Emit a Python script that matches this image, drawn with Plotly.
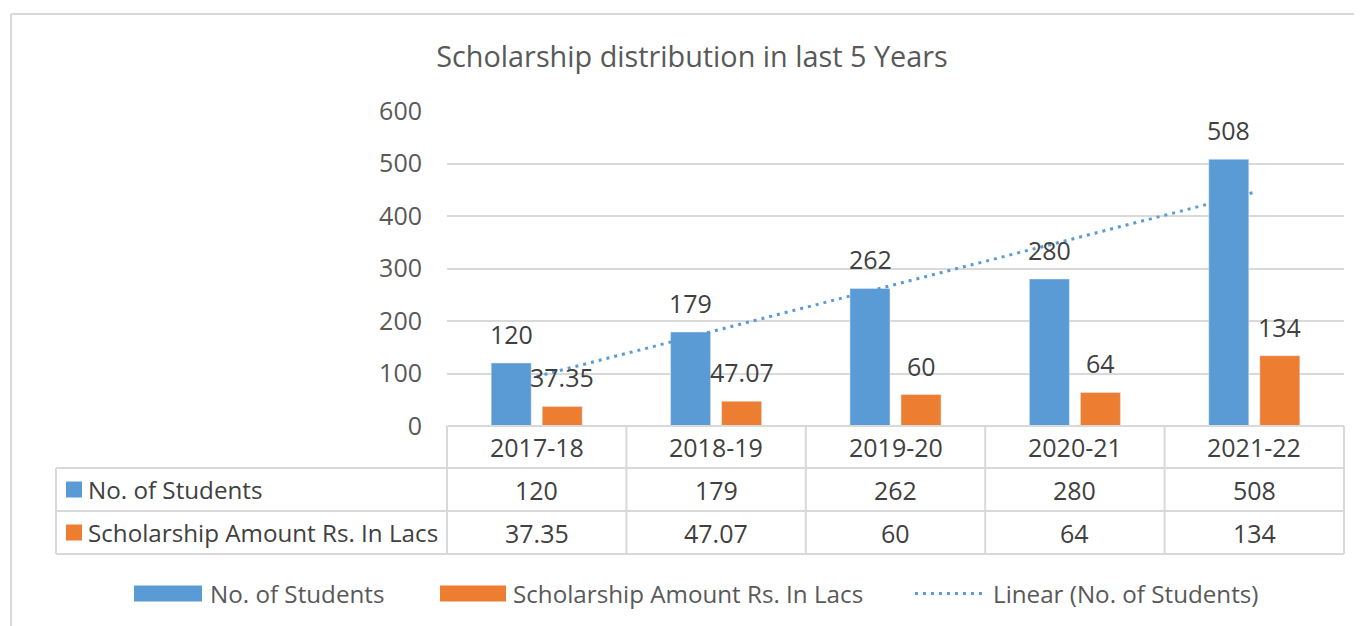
import numpy as np
import plotly.graph_objects as go

categories = ["2017-18", "2018-19", "2019-20", "2020-21", "2021-22"]
students = [120, 179, 262, 280, 508]
amount = [37.35, 47.07, 60, 64, 134]
amount_labels = ["37.35", "47.07", "60", "64", "134"]
series_names = ["No. of Students", "Scholarship Amount Rs. In Lacs", "Linear (No. of Students)"]
y_ticks = [0, 100, 200, 300, 400, 500, 600]

BLUE = "#5b9bd5"
ORANGE = "#ed7d31"
GRID = "#d9d9d9"
TXT = "#404040"
TXT2 = "#595959"
FONT = "Open Sans"
FS = 24.2   # text
FN = 25     # numbers

W, H = 1362, 626
OFF = 8  # page body margin
# plot area in page pixels
PL, PR, PT, PB = 447, 1344, 111, 426
L, R, T, B = PL - OFF, PR - OFF, PT - OFF, PB - OFF


def px(xp):
    return (xp - PL) / (PR - PL)


def py(yp):
    return (PB - yp) / (PB - PT)


# linear trend line (least squares) of students
xi = np.arange(1, len(students) + 1)
slope, icpt = np.polyfit(xi, students, 1)
trend = slope * xi + icpt

DOT = "3px,5px"

fig = go.Figure()
fig.add_trace(go.Bar(x=categories, y=students, name=series_names[0],
                     marker=dict(color=BLUE), showlegend=False))
fig.add_trace(go.Bar(x=categories, y=amount, name=series_names[1],
                     marker=dict(color=ORANGE), showlegend=False))
fig.add_trace(go.Scatter(x=categories, y=trend, name=series_names[2], mode="lines",
                         line=dict(color=BLUE, width=3, dash=DOT), showlegend=False))

ann = []
shapes = []

# data labels
for c, v in zip(categories, students):
    ann.append(dict(x=c, y=v, xref="x", yref="y", text=str(v), showarrow=False,
                    xshift=-25.5, yshift=10, yanchor="bottom",
                    font=dict(family=FONT, size=FN, color=TXT)))
for c, v, t in zip(categories, amount, amount_labels):
    ann.append(dict(x=c, y=v, xref="x", yref="y", text=t, showarrow=False,
                    xshift=25.5, yshift=10, yanchor="bottom",
                    font=dict(family=FONT, size=FN, color=TXT)))

# data table
row_y = [447, 489.5, 532.5]
for c in categories:
    ann.append(dict(x=c, y=py(row_y[0]), xref="x", yref="paper", text=c, showarrow=False,
                    yanchor="middle", font=dict(family=FONT, size=FN, color=TXT)))
for c, v in zip(categories, students):
    ann.append(dict(x=c, y=py(row_y[1]), xref="x", yref="paper", text=str(v), showarrow=False,
                    yanchor="middle", font=dict(family=FONT, size=FN, color=TXT)))
for c, t in zip(categories, amount_labels):
    ann.append(dict(x=c, y=py(row_y[2]), xref="x", yref="paper", text=t, showarrow=False,
                    yanchor="middle", font=dict(family=FONT, size=FN, color=TXT)))

# row headers with colour keys
for ry, name, col in [(row_y[1], series_names[0], BLUE), (row_y[2], series_names[1], ORANGE)]:
    shapes.append(dict(type="rect", xref="paper", yref="paper",
                       x0=px(66), x1=px(82), y0=py(ry - 8), y1=py(ry + 8),
                       fillcolor=col, line=dict(width=0)))
    ann.append(dict(x=px(86), y=py(ry), xref="paper", yref="paper", text=name,
                    showarrow=False, xanchor="left", yanchor="middle",
                    font=dict(family=FONT, size=FS, color=TXT)))

lw = dict(color=GRID, width=2)
# horizontal table lines
shapes.append(dict(type="line", xref="paper", yref="paper", x0=0, x1=1, y0=py(426), y1=py(426), line=lw))
for yy in [468, 511, 554]:
    shapes.append(dict(type="line", xref="paper", yref="paper", x0=px(56), x1=1, y0=py(yy), y1=py(yy), line=lw))
# vertical table lines
shapes.append(dict(type="line", xref="paper", yref="paper", x0=px(56), x1=px(56), y0=py(468), y1=py(554), line=lw))
for i in range(len(categories) + 1):
    xx = PL + i * (PR - PL) / len(categories)
    shapes.append(dict(type="line", xref="paper", yref="paper", x0=px(xx), x1=px(xx), y0=py(426), y1=py(554), line=lw))

# outer chart border (top and left)
shapes.append(dict(type="line", xref="paper", yref="paper", x0=px(11), x1=px(W + 20), y0=py(14), y1=py(14),
                   line=dict(color=GRID, width=2)))
shapes.append(dict(type="line", xref="paper", yref="paper", x0=px(11), x1=px(11), y0=py(14), y1=py(H + 20),
                   line=dict(color=GRID, width=2)))

# bottom legend
LY = 593.5
shapes.append(dict(type="rect", xref="paper", yref="paper", x0=px(134), x1=px(202), y0=py(LY - 8), y1=py(LY + 8),
                   fillcolor=BLUE, line=dict(width=0)))
ann.append(dict(x=px(208), y=py(LY), xref="paper", yref="paper", text=series_names[0], showarrow=False,
                xanchor="left", yanchor="middle", font=dict(family=FONT, size=FS, color=TXT2)))
shapes.append(dict(type="rect", xref="paper", yref="paper", x0=px(440), x1=px(506), y0=py(LY - 8), y1=py(LY + 8),
                   fillcolor=ORANGE, line=dict(width=0)))
ann.append(dict(x=px(511), y=py(LY), xref="paper", yref="paper", text=series_names[1], showarrow=False,
                xanchor="left", yanchor="middle", font=dict(family=FONT, size=FS, color=TXT2)))
shapes.append(dict(type="line", xref="paper", yref="paper", x0=px(915), x1=px(985), y0=py(LY), y1=py(LY),
                   line=dict(color=BLUE, width=3, dash=DOT)))
ann.append(dict(x=px(991), y=py(LY), xref="paper", yref="paper", text=series_names[2], showarrow=False,
                xanchor="left", yanchor="middle", font=dict(family=FONT, size=FS, color=TXT2)))

fig.update_layout(
    width=W, height=H,
    margin=dict(l=L, r=W - R, t=T, b=H - B),
    paper_bgcolor="white", plot_bgcolor="white",
    barmode="group", bargap=0.431, bargroupgap=0.216,
    title=dict(text="Scholarship distribution in last 5 Years", x=(692 - OFF) / W, xanchor="center",
               y=1 - (57 - OFF) / H, yanchor="middle", font=dict(family=FONT, size=28.8, color=TXT2)),
    xaxis=dict(type="category", range=[-0.5, 4.5], showticklabels=False, showgrid=False,
               zeroline=False, showline=False, ticks=""),
    yaxis=dict(range=[0, 600], tickvals=y_ticks, showgrid=True, gridcolor=GRID, gridwidth=1.5,
               zeroline=False, showline=False, ticks="", ticklabelstandoff=24,
               tickfont=dict(family=FONT, size=FN, color=TXT2)),
    annotations=ann, shapes=shapes, showlegend=False,
)

fig.write_html("out.html")
